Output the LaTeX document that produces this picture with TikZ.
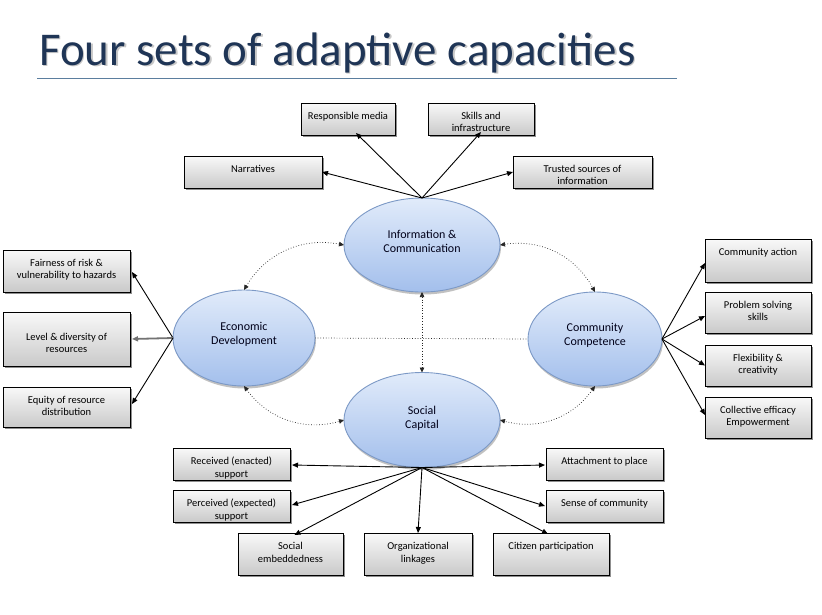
\documentclass[tikz,border=0pt]{standalone}
\usepackage{fontspec}
\setmainfont{Carlito}
\usetikzlibrary{shapes.geometric,shadows,arrows.meta,calc}
\definecolor{titlenavy}{HTML}{1F3556}
\definecolor{rulecol}{HTML}{5B7E9E}
\definecolor{elltop}{HTML}{E1EBFA}
\definecolor{ellbot}{HTML}{A3BFEC}
\definecolor{ellborder}{HTML}{7C99C6}
\newcommand{\boxfont}{\fontsize{10.5}{12.5}\selectfont}
\newcommand{\ellfont}{\fontsize{12}{14.5}\selectfont}
\begin{document}
\begin{tikzpicture}[x=1pt,y=-1pt,
  box/.style 2 args={draw=black, line width=0.8pt, top color=gray!5, bottom color=gray!42,
    minimum width=#1, minimum height=#2, inner sep=0pt, outer sep=0pt,
    drop shadow={shadow xshift=2pt, shadow yshift=-2pt, fill=black!55, opacity=0.8}},
  boxlabel/.style={anchor=north, inner sep=0pt, yshift=-9pt, align=center, font=\boxfont},
  capacity/.style={ellipse, draw=ellborder, line width=0.9pt, top color=elltop, bottom color=ellbot,
    inner sep=0pt, outer sep=0pt,
    drop shadow={shadow xshift=1pt, shadow yshift=-2.5pt, fill=black!40, opacity=0.6}},
  ellabel/.style={inner sep=0pt, align=center, font=\ellfont, text=black!90!blue, yshift=3.5pt},
  conn/.style={-{Triangle[length=6pt,width=5pt]}, line width=0.9pt, black},
  dotconn/.style={{Triangle[length=5pt,width=4.5pt]}-{Triangle[length=5pt,width=4.5pt]}, dotted, line width=0.7pt, black!85},
]
\fill[white] (0,0) rectangle (822,614);
\useasboundingbox (0,0) rectangle (822,614);

% title
\node[anchor=base west, inner sep=0pt, font=\fontsize{47}{50}\selectfont, text=black!22] (titleshadow) at (40.5,66.5) {Four sets of adaptive capacities};
\node[anchor=base west, inner sep=0pt, font=\fontsize{47}{50}\selectfont, text=titlenavy] (title) at (39,65) {Four sets of adaptive capacities};
\draw[rulecol, line width=0.9pt] (37,78) -- (677,78);

% ellipses
\node[capacity, minimum width=156, minimum height=94, label={[ellabel]center:{Information \&\\Communication}}] (info) at (422,245) {};
\node[capacity, minimum width=142, minimum height=96, label={[ellabel]center:{Economic\\Development}}] (econ) at (244,338) {};
\node[capacity, minimum width=134, minimum height=94, label={[ellabel]center:{Community\\Competence}}] (comm) at (595,339) {};
\node[capacity, minimum width=156, minimum height=95, label={[ellabel, yshift=-2pt]center:{Social\\Capital}}] (soc) at (422,420) {};

% boxes: information
\node[box={94}{32}, label={[boxlabel]north:Responsible media}] (resp) at (348,119) {};
\node[box={106}{32}, label={[boxlabel]north:{Skills and\\infrastructure}}] (skills) at (481,119) {};
\node[box={138}{32}, label={[boxlabel]north:Narratives}] (narr) at (253,172) {};
\node[box={139}{32}, label={[boxlabel]north:{Trusted sources of\\information}}] (trust) at (582.5,172) {};

% boxes: economic
\node[box={127}{42}, label={[boxlabel]north:{Fairness of risk \&\\vulnerability to hazards}}] (fair) at (66.5,271) {};
\node[box={127}{54}, label={[boxlabel, yshift=-12pt]north:{Level \& diversity of\\resources}}] (level) at (66.5,339) {};
\node[box={127}{40}, label={[boxlabel]north:{Equity of resource\\distribution}}] (equity) at (66.5,407) {};

% boxes: community
\node[box={106}{43}, label={[boxlabel]north:Community action}] (cact) at (758,260.5) {};
\node[box={106}{41}, label={[boxlabel]north:{Problem solving\\skills}}] (prob) at (758,312.5) {};
\node[box={106}{41}, label={[boxlabel]north:{Flexibility \&\\creativity}}] (flex) at (758,365.5) {};
\node[box={106}{41}, label={[boxlabel]north:{Collective efficacy\\Empowerment}}] (coll) at (758,417.5) {};

% boxes: social
\node[box={117}{32}, label={[boxlabel]north:{Received (enacted)\\support}}] (rec) at (231.5,464) {};
\node[box={117}{32}, label={[boxlabel]north:{Perceived (expected)\\support}}] (perc) at (231.5,506) {};
\node[box={105}{42}, label={[boxlabel]north:{Social\\embeddedness}}] (emb) at (290.5,554) {};
\node[box={108}{42}, label={[boxlabel]north:{Organizational\\linkages}}] (org) at (418,554) {};
\node[box={116}{42}, label={[boxlabel]north:Citizen participation}] (cit) at (551,554) {};
\node[box={117}{32}, label={[boxlabel]north:Attachment to place}] (att) at (604.5,464) {};
\node[box={117}{32}, label={[boxlabel]north:Sense of community}] (sense) at (604.5,506) {};

% dotted links between capacities
\draw[dotted, line width=0.7pt, black!85] (econ.east) -- (comm.west);
\draw[dotconn] (info.south) -- (soc.north);
\draw[dotconn] (info.west) to[bend right=35] (econ.north);
\draw[dotconn] (info.east) to[bend left=35] (comm.north);
\draw[dotconn] (econ.south) to[bend right=35] (soc.west);
\draw[dotconn] (comm.south) to[bend left=35] (soc.east);

% information arrows
\draw[conn] (info.north) -- (narr.east);
\draw[conn] (info.north) -- ($(resp.south)+(8,-2)$);
\draw[conn] (info.north) -- ($(skills.south)+(0,-3)$);
\draw[conn] (info.north) -- (trust.west);

% economic arrows
\draw[conn] (econ.west) -- ($(fair.east)+(2,1)$);
\draw[conn, black!55, line width=1.8pt] (econ.west) -- ($(level.east)+(2,0)$);
\draw[conn] (econ.west) -- ($(equity.east)+(2,-3)$);

% community arrows
\draw[conn] (comm.east) -- ($(cact.west)+(0,2.5)$);
\draw[conn] (comm.east) -- ($(prob.west)+(0,3.5)$);
\draw[conn] (comm.east) -- (flex.west);
\draw[conn] (comm.east) -- ($(coll.west)+(0,-2.5)$);

% social arrows
\draw[conn] (soc.south) -- ($(rec.east)+(2,1)$);
\draw[conn] (soc.south) -- ($(perc.east)+(2,-1)$);
\draw[conn] (soc.south) -- ($(emb.north)+(4,2)$);
\draw[conn] (soc.south) -- (org.north);
\draw[conn] (soc.south) -- ($(cit.north)+(-3,1)$);
\draw[conn] (soc.south) -- ($(att.west)+(-1,1)$);
\draw[conn] (soc.south) -- ($(sense.west)+(-1,0)$);
\end{tikzpicture}
\end{document}
